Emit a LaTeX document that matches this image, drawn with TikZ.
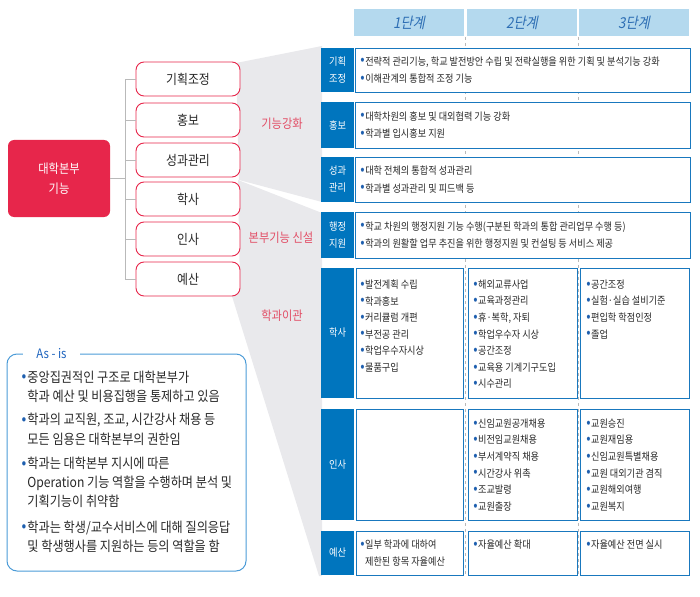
\documentclass[tikz,border=0pt]{standalone}
\usepackage{fontspec}
\usepackage{graphicx}
\setmainfont{Noto Sans CJK KR}[FakeStretch=0.88]
\newfontfamily\slfont{Noto Sans CJK KR}[FakeStretch=0.88,FakeSlant=0.2]
\usetikzlibrary{positioning}
\definecolor{mainr}{RGB}{231,38,75}
\definecolor{labr}{RGB}{226,78,102}
\definecolor{darkt}{RGB}{40,40,40}
\definecolor{labb}{RGB}{0,117,190}
\definecolor{cellb}{RGB}{25,120,190}
\definecolor{headb}{RGB}{180,217,238}
\definecolor{headt}{RGB}{45,110,180}
\definecolor{fang}{RGB}{233,233,236}
\definecolor{lineg}{RGB}{185,185,185}
\definecolor{bulb}{RGB}{30,95,175}
\definecolor{asisb}{RGB}{75,155,215}
\definecolor{asist}{RGB}{30,100,190}
\newcommand{\bul}{{\color{bulb}\raisebox{0.3pt}{\scalebox{1.4}{\textbullet}}}\hspace{0.5pt}}
\newcommand{\bulsp}{\phantom{\bul}}
\newcommand{\bulsm}{{\color{bulb}\raisebox{0.3pt}{\scalebox{1.15}{\textbullet}}}\hspace{1pt}}
\newcommand{\bulsmsp}{\phantom{\bulsm}}
\tikzset{
  tbox/.style={draw=mainr, fill=white, rounded corners=8pt, line width=0.9pt, minimum width=104pt, minimum height=34pt, text=darkt, font=\fontsize{13.5}{16}\selectfont},
  lab/.style={text=labr, font=\fontsize{12.8}{15}\selectfont},
  stage/.style={fill=headb, text=headt, minimum width=110pt, minimum height=27pt, font=\slfont\fontsize{15}{18}\selectfont},
  rowlab/.style={fill=labb, text=white, minimum width=33pt, align=center, inner sep=0pt, font=\fontsize{10.5}{17}\selectfont},
  cell/.style={draw=cellb, fill=white, line width=0.9pt, inner sep=0pt},
  txt/.style={align=left, inner sep=0pt, text=darkt, font=\fontsize{10.4}{16.6}\selectfont},
  txtw/.style={txt, font=\fontsize{10.4}{17.5}\selectfont},
  sep/.style={draw=lineg, line width=0.8pt, dash pattern=on 3pt off 3pt},
  treeline/.style={draw=lineg, line width=0.8pt}
}

\begin{document}
\begin{tikzpicture}[x=1pt,y=-1pt]
\useasboundingbox (0,0) rectangle (700,596);
% grey fans behind the boxes
\fill[fang] (236,63) -- (322,46) -- (322,202) -- (239,180) -- cycle;
\fill[fang] (238,180) -- (322,213) -- (322,576) -- (319,576) -- (231,293) -- (240,290) -- cycle;

% tree
\node[fill=mainr, text=white, rounded corners=6pt, minimum width=102pt, minimum height=77pt, align=center, font=\fontsize{12.8}{20}\selectfont] (0) at (59,178.5) {대학본부\\기능};
\node[tbox] (1) at (188,79)  {기획조정};
\node[tbox] (2) at (188,120) {홍보};
\node[tbox] (3) at (188,160) {성과관리};
\node[tbox] (4) at (188,199) {학사};
\node[tbox] (5) at (188,239) {인사};
\node[tbox] (6) at (188,279) {예산};
\foreach \i in {1,...,6}
  \draw[treeline] (0.east) -- ++(15,0) |- (\i.west);

\node[lab] (l1) at (282,124) {기능강화};
\node[lab] (l2) at (281,238) {본부기능 신설};
\node[lab] (l3) at (282,316) {학과이관};

% stages
\node[stage] (s1) at (409,22.5) {1단계};
\node[stage] (s2) at (522,22.5) {2단계};
\node[stage] (s3) at (634,22.5) {3단계};
\coordinate (d1) at (465.5,37);
\coordinate (e1) at (465.5,576);
\coordinate (d2) at (578.5,37);
\coordinate (e2) at (578.5,576);
\draw[sep] (d1) -- (e1);
\draw[sep] (d2) -- (e2);

% rows spanning all stages
\node[rowlab, minimum height=44pt] (r1) at (337.5,70) {기획\\조정};
\node[cell, minimum width=335pt, minimum height=44pt] (c1) at (522.5,70) {};
\node[txtw, right=6pt of r1.east] (t1) {\bul 전략적 관리기능, 학교 발전방안 수립 및 전략실행을 위한 기획 및 분석기능 강화\\\bul 이해관계의 통합적 조정 기능};

\node[rowlab, minimum height=46pt] (r2) at (337.5,125) {홍보};
\node[cell, minimum width=335pt, minimum height=46pt] (c2) at (522.5,125) {};
\node[txtw, right=6pt of r2.east] (t2) {\bul 대학차원의 홍보 및 대외협력 기능 강화\\\bul 학과별 입시홍보 지원};

\node[rowlab, minimum height=45pt] (r3) at (337.5,179.5) {성과\\관리};
\node[cell, minimum width=335pt, minimum height=45pt] (c3) at (522.5,179.5) {};
\node[txtw, right=6pt of r3.east] (t3) {\bul 대학 전체의 통합적 성과관리\\\bul 학과별 성과관리 및 피드백 등};

\node[rowlab, minimum height=46pt] (r4) at (337.5,235) {행정\\지원};
\node[cell, minimum width=335pt, minimum height=46pt] (c4) at (522.5,235) {};
\node[txtw, right=6pt of r4.east] (t4) {\bul 학교 차원의 행정지원 기능 수행(구분된 학과의 통합 관리업무 수행 등)\\\bul 학과의 원활할 업무 추진을 위한 행정지원 및 컨설팅 등 서비스 제공};

% 학사
\node[rowlab, minimum height=130pt] (r5) at (337.5,333) {학사};
\node[cell, minimum width=107pt, minimum height=130pt] (b51) at (409.5,333) {};
\node[cell, minimum width=109pt, minimum height=130pt] (b52) at (522.5,333) {};
\node[cell, minimum width=109pt, minimum height=130pt] (b53) at (634.5,333) {};
\node[txt, below right=12pt and 4.5pt of b51.north west] (t51) {\bul 발전계획 수립\\\bul 학과홍보\\\bul 커리큘럼 개편\\\bul 부전공 관리\\\bul 학업우수자시상\\\bul 물품구입};
\node[txt, below right=12pt and 5.5pt of b52.north west] (t52) {\bul 해외교류사업\\\bul 교육과정관리\\\bul 휴·복학, 자퇴\\\bul 학업우수자 시상\\\bul 공간조정\\\bul 교육용 기계기구도입\\\bul 시수관리};
\node[txt, below right=12pt and 6.5pt of b53.north west] (t53) {\bul 공간조정\\\bul 실험·실습 설비기준\\\bul 편입학 학점인정\\\bul 졸업};

% 인사
\node[rowlab, minimum height=111pt] (r6) at (337.5,464.5) {인사};
\node[cell, minimum width=107pt, minimum height=111pt] (b61) at (409.5,464.5) {};
\node[cell, minimum width=109pt, minimum height=111pt] (b62) at (522.5,464.5) {};
\node[cell, minimum width=109pt, minimum height=111pt] (b63) at (634.5,464.5) {};
\node[txt, below right=10pt and 5.5pt of b62.north west] (t62) {\bul 신임교원공개채용\\\bul 비전임교원채용\\\bul 부서계약직 채용\\\bul 시간강사 위촉\\\bul 조교발령\\\bul 교원출장};
\node[txt, below right=10pt and 6.5pt of b63.north west] (t63) {\bul 교원승진\\\bul 교원재임용\\\bul 신임교원특별채용\\\bul 교원 대외기관 겸직\\\bul 교원해외여행\\\bul 교원복지};

% 예산
\node[rowlab, minimum height=44pt] (r7) at (337.5,553) {예산};
\node[cell, minimum width=107pt, minimum height=44pt] (b71) at (409.5,553) {};
\node[cell, minimum width=109pt, minimum height=44pt] (b72) at (522.5,553) {};
\node[cell, minimum width=109pt, minimum height=44pt] (b73) at (634.5,553) {};
\node[txt, below right=9pt and 4.5pt of b71.north west] (t71) {\bul 일부 학과에 대하여\\\bulsp 제한된 항목 자율예산};
\node[txt, below right=9pt and 5.5pt of b72.north west] (t72) {\bul 자율예산 확대};
\node[txt, below right=9pt and 6.5pt of b73.north west] (t73) {\bul 자율예산 전면 실시};

% As-is
\node[draw=asisb, line width=1pt, rounded corners=10pt, minimum width=239pt, minimum height=217pt] (as) at (126.5,462.5) {};
\node[fill=white, text=asist, minimum width=57pt, inner ysep=1pt, font=\fontsize{13}{15}\selectfont] (at) at (51.5,354) {As - is};
\node[txt, below right=17pt and 15pt of as.north west, font=\fontsize{13.8}{19.3}\selectfont] (ta) {\bulsm 중앙집권적인 구조로 대학본부가\\\bulsmsp 학과 예산 및 비용집행을 통제하고 있음\\[4pt]\bulsm 학과의 교직원, 조교, 시간강사 채용 등\\\bulsmsp 모든 임용은 대학본부의 권한임\\[5pt]\bulsm 학과는 대학본부 지시에 따른\\\bulsmsp Operation 기능 역할을 수행하며 분석 및\\\bulsmsp 기획기능이 취약함\\[6pt]\bulsm 학과는 학생/교수서비스에 대해 질의응답\\\bulsmsp 및 학생행사를 지원하는 등의 역할을 함};
\end{tikzpicture}
\end{document}
